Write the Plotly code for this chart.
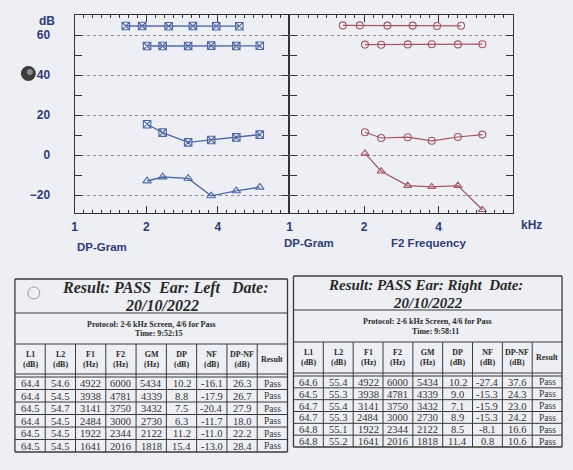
import plotly.graph_objects as go
import numpy as np

W, H = 573, 470

# ---------------- data ----------------
F1 = [4922, 3938, 3141, 2484, 1922, 1641]
F2 = [6000, 4781, 3750, 3000, 2344, 2016]
GM = [5434, 4339, 3432, 2730, 2122, 1818]

L1_left = [64.4, 64.4, 64.5, 64.4, 64.5, 64.5]
L2_left = [54.6, 54.5, 54.7, 54.5, 54.5, 54.5]
DP_left = [10.2, 8.8, 7.5, 6.3, 11.2, 15.4]
NF_left = [-16.1, -17.9, -20.4, -11.7, -11.0, -13.0]
DPNF_left = [26.3, 26.7, 27.9, 18.0, 22.2, 28.4]
RES_left = ["Pass"] * 6

L1_right = [64.6, 64.5, 64.7, 64.7, 64.8, 64.8]
L2_right = [55.4, 55.3, 55.4, 55.3, 55.1, 55.2]
DP_right = [10.2, 9.0, 7.1, 8.9, 8.5, 11.4]
NF_right = [-27.4, -15.3, -15.9, -15.3, -8.1, 0.8]
DPNF_right = [37.6, 24.3, 23.0, 24.2, 16.6, 10.6]
RES_right = ["Pass"] * 6

COL_HEADERS = [("L1", "(dB)"), ("L2", "(dB)"), ("F1", "(Hz)"), ("F2", "(Hz)"),
               ("GM", "(Hz)"), ("DP", "(dB)"), ("NF", "(dB)"), ("DP-NF", "(dB)"), ("Result", "")]
X_TICKS = [1, 2, 4]
X_TICKTEXT = ["1", "2", "4"]

DATE = "20/10/2022"
TIME_LEFT = "9:52:15"
TIME_RIGHT = "9:58:11"
PROTOCOL = "Protocol: 2-6 kHz Screen, 4/6 for Pass"

# ---------------- style ----------------
BG = "#edeff4"
BLUE = "#4e68a6"
RED = "#a45565"
NAVY = "#2d3d78"
FRAME = "#333333"
INK = "#2a2a2a"
TLINE = "#3a3a3a"


def px(x):
    return x / W


def py(y):
    return 1 - y / H


fig = go.Figure()


def khz(arr):
    return [v / 1000 for v in arr]


# Left ear traces
for yv, xv, sym in [(L1_left, F1, "square-x-open"), (L2_left, F2, "square-x-open"),
                    (DP_left, F2, "square-x-open"), (NF_left, F2, "triangle-up-open")]:
    fig.add_trace(go.Scatter(x=khz(xv), y=yv, mode="lines+markers", xaxis="x", yaxis="y",
                             line=dict(color=BLUE, width=1.3),
                             marker=dict(symbol=sym, size=7.5, color=BLUE, line=dict(width=1.1, color=BLUE)),
                             showlegend=False, hoverinfo="skip"))
# Right ear traces
for yv, xv, sym in [(L1_right, F1, "circle-open"), (L2_right, F2, "circle-open"),
                    (DP_right, F2, "circle-open"), (NF_right, F2, "triangle-up-open")]:
    fig.add_trace(go.Scatter(x=khz(xv), y=yv, mode="lines+markers", xaxis="x2", yaxis="y2",
                             line=dict(color=RED, width=1.2),
                             marker=dict(symbol=sym, size=7, color=RED, line=dict(width=1.1, color=RED)),
                             showlegend=False, hoverinfo="skip"))

# invisible traces to carry the top (mirrored) frequency axes
for xa, ya in [("x3", "y"), ("x4", "y2")]:
    fig.add_trace(go.Scatter(x=[1], y=[0], xaxis=xa, yaxis=ya, mode="markers",
                             marker=dict(opacity=0), showlegend=False, hoverinfo="skip"))

tickfont = dict(family="Liberation Sans", size=12, color=NAVY, weight="bold")
minor_x = [2 ** (k / 8) for k in range(0, 25)]


def xaxis(domain, anchor, top=False, overlay=None):
    d = dict(domain=domain, anchor=anchor, type="log", range=[0, np.log10(8)],
             tickmode="array", tickvals=X_TICKS, ticktext=X_TICKTEXT,
             ticks="inside", ticklen=7, tickwidth=1, tickcolor=FRAME,
             showline=True, linecolor=FRAME, linewidth=1.3,
             showgrid=False, zeroline=False, tickfont=tickfont, ticklabelstandoff=2,
             minor=dict(tickmode="array", tickvals=minor_x, ticks="inside", ticklen=3,
                        tickcolor=FRAME, tickwidth=1, showgrid=False))
    if top:
        d.update(side="top", overlaying=overlay, showticklabels=False)
    return d


def yaxis(anchor, labels):
    return dict(domain=[py(213), py(15)], anchor=anchor, range=[-29, 70],
                tick0=0, dtick=20, ticks="inside", ticklen=7, tickcolor=FRAME,
                showline=True, linecolor=FRAME, linewidth=1.3, mirror="ticks",
                showgrid=True, gridcolor="#8a8a8a", griddash="dot", gridwidth=1,
                zeroline=False, showticklabels=labels, tickfont=tickfont,
                ticklabelstandoff=21,
                minor=dict(dtick=10, tick0=0, ticks="inside", ticklen=7, tickcolor=FRAME,
                           showgrid=False))


fig.update_layout(
    width=W, height=H, margin=dict(l=0, r=0, t=0, b=0),
    paper_bgcolor=BG, plot_bgcolor=BG,
    xaxis=xaxis([px(72), px(288)], "y"),
    yaxis=yaxis("x", True),
    xaxis2=xaxis([px(288), px(513)], "y2"),
    yaxis2=yaxis("x2", False),
    xaxis3=xaxis([px(72), px(288)], "y", top=True, overlay="x"),
    xaxis4=xaxis([px(288), px(513)], "y2", top=True, overlay="x2"),
)

annotations = []
shapes = []


def ann(text, x, y, size, color, family="Liberation Sans", xanchor="center", yanchor="middle"):
    annotations.append(dict(text=text, x=px(x), y=py(y), xref="paper", yref="paper",
                            showarrow=False, xanchor=xanchor, yanchor=yanchor,
                            font=dict(size=size, color=color, family=family)))


def hline(x0, x1, y, width=1.1):
    shapes.append(dict(type="line", xref="paper", yref="paper", x0=px(x0), x1=px(x1),
                       y0=py(y), y1=py(y), line=dict(color=TLINE, width=width)))


def vline(x, y0, y1, width=1.1):
    shapes.append(dict(type="line", xref="paper", yref="paper", x0=px(x), x1=px(x),
                       y0=py(y0), y1=py(y1), line=dict(color=TLINE, width=width)))


ann("<b>dB</b>", 44, 21, 12, NAVY)
ann("<b>kHz</b>", 531, 225, 12, NAVY)
ann("<b>DP-Gram</b>", 100, 247, 11.5, NAVY)
ann("<b>DP-Gram</b>", 308, 243, 11.5, NAVY)
ann("<b>F2 Frequency</b>", 428, 243, 11.5, NAVY)

# camera hole / dark dot
shapes.append(dict(type="circle", xref="paper", yref="paper", x0=px(18), x1=px(33), y0=py(81), y1=py(66),
                   fillcolor="#3c3c3c", line=dict(width=0)))
shapes.append(dict(type="circle", xref="paper", yref="paper", x0=px(24), x1=px(30), y0=py(75), y1=py(69),
                   fillcolor="#8a8a8a", line=dict(width=0)))


def table(x0, x1, ytop, ytitle, yproto, yhead, ybot, time, title, title_size, title_cx, date_cx,
          L1, L2, DP, NF, DPNF, RES):
    # frame and row separators
    hline(x0, x1, ytop, 1.3)
    hline(x0, x1, ybot, 1.3)
    vline(x0, ytop, ybot, 1.3)
    vline(x1, ytop, ybot, 1.3)
    hline(x0, x1, ytitle)
    hline(x0, x1, yproto)
    hline(x0, x1, yhead)
    ystart = yhead + 3
    hline(x0, x1, ystart)
    rh = (ybot - ystart) / 6
    for r in range(1, 6):
        hline(x0, x1, ystart + r * rh, 1.0)
    cw = (x1 - x0) / 9
    for c in range(1, 9):
        vline(x0 + c * cw, yproto, ybot, 1.0)

    th = ytitle - ytop
    ann("<b><i>" + title + "</i></b>", title_cx, ytop + th * 0.25, title_size, INK, family="Liberation Serif")
    ann("<b><i>" + DATE + "</i></b>", date_cx, ytop + th * 0.78, title_size, INK, family="Liberation Serif")
    ph = yproto - ytitle
    ann("<b>" + PROTOCOL + "</b>", (x0 + x1) / 2, ytitle + ph * 0.36, 8, INK, family="Liberation Serif")
    ann("<b>Time: " + time + "</b>", (x0 + x1) / 2 + 8, ytitle + ph * 0.66, 8, INK, family="Liberation Serif")

    # column headers
    for c, (a, b) in enumerate(COL_HEADERS):
        cx = x0 + (c + 0.5) * cw
        txt = "<b>%s</b><br><b>%s</b>" % (a, b) if b else "<b>%s</b>" % a
        ann(txt, cx, (yproto + yhead) / 2, 8, INK, family="Liberation Serif")

    cols = [["%.1f" % v for v in L1], ["%.1f" % v for v in L2], [str(v) for v in F1], [str(v) for v in F2],
            [str(v) for v in GM], ["%.1f" % v for v in DP], ["%.1f" % v for v in NF],
            ["%.1f" % v for v in DPNF], RES]
    for c, col in enumerate(cols):
        cx = x0 + (c + 0.5) * cw
        for r, v in enumerate(col):
            ann(v, cx, ystart + (r + 0.5) * rh + 0.5, 10.5 if c < 8 else 9.5, "#333333",
                family="Liberation Serif")


table(12, 286, 279, 313, 344, 374, 452, TIME_LEFT,
      "Result: PASS\u00a0\u00a0Ear: Left\u00a0\u00a0\u00a0Date:", 16, 163, 160,
      L1_left, L2_left, DP_left, NF_left, DPNF_left, RES_left)
table(292, 562, 276, 310, 342, 373, 447, TIME_RIGHT,
      "Result: PASS\u00a0Ear: Right\u00a0\u00a0Date:", 15, 425, 427,
      L1_right, L2_right, DP_right, NF_right, DPNF_right, RES_right)

# small faint circle in left table title
shapes.append(dict(type="circle", xref="paper", yref="paper", x0=px(25), x1=px(37), y0=py(299), y1=py(287),
                   fillcolor="rgba(0,0,0,0)", line=dict(color="#9a9a9a", width=1)))

fig.update_layout(annotations=annotations, shapes=shapes)
fig.write_html("out.html", config={"displayModeBar": False},
               post_script="document.body.style.margin='0';document.body.style.background='%s';" % BG)
